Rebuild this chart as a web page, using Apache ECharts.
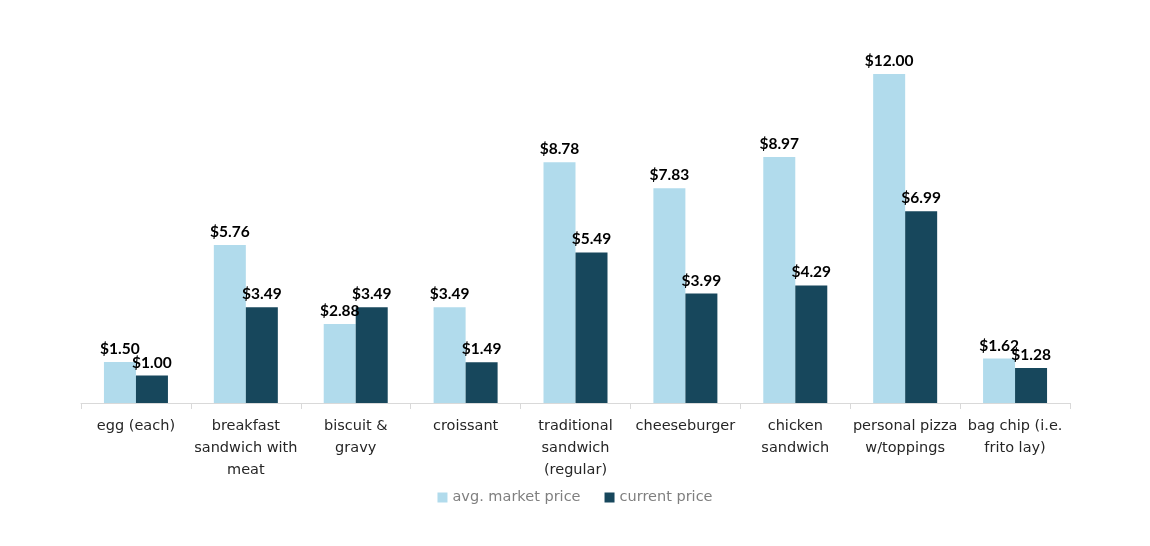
<!DOCTYPE html>
<html>
<head>
<meta charset="utf-8">
<script src="https://cdn.jsdelivr.net/npm/echarts@6/dist/echarts.min.js"></script>
<style>html,body{margin:0;padding:0;background:#fff;}#c{width:1150px;height:546px;}</style>
</head>
<body>
<div id="c"></div>
<script>
const categories = ["egg (each)", "breakfast\nsandwich with\nmeat", "biscuit &\ngravy", "croissant", "traditional\nsandwich\n(regular)", "cheeseburger", "chicken\nsandwich", "personal pizza\nw/toppings", "bag chip (i.e.\nfrito lay)"];
const avgMarketPrice = [1.50, 5.76, 2.88, 3.49, 8.78, 7.83, 8.97, 12.00, 1.62];
const currentPrice = [1.00, 3.49, 3.49, 1.49, 5.49, 3.99, 4.29, 6.99, 1.28];
const seriesNames = ["avg. market price", "current price"];

const chart = echarts.init(document.getElementById('c'));
const font = "'Lato', 'Open Sans', sans-serif";
const textFont = "'DejaVu Sans', sans-serif";
const lbl = {
  show: true, position: 'top', distance: 5,
  formatter: p => '$' + p.value.toFixed(2),
  fontFamily: font, fontWeight: 'bold', fontSize: 15.5, color: '#000'
};
chart.setOption({
  animation: false,
  grid: { left: 81, right: 80, top: 74, bottom: 143, containLabel: false },
  legend: {
    bottom: 36, left: 'center', itemWidth: 10, itemHeight: 10, itemGap: 24, icon: 'rect',
    textStyle: { fontFamily: textFont, fontSize: 14.5, color: '#7f7f7f' },
    data: seriesNames
  },
  xAxis: {
    type: 'category', data: categories,
    axisLine: { lineStyle: { color: '#d9d9d9', width: 1 } },
    axisTick: { show: true, length: 6, lineStyle: { color: '#d9d9d9' } },
    axisLabel: { interval: 0, margin: 12, fontFamily: textFont, fontSize: 14.5, color: '#262626', lineHeight: 22 }
  },
  yAxis: { type: 'value', min: 0, max: 12, show: false, splitLine: { show: false } },
  series: [
    { name: seriesNames[0], type: 'bar', data: avgMarketPrice, barWidth: 32, barGap: '0%', itemStyle: { color: '#b1dbec' }, label: lbl },
    { name: seriesNames[1], type: 'bar', data: currentPrice, barWidth: 32, itemStyle: { color: '#17475c' }, label: lbl }
  ]
});
</script>
</body>
</html>
